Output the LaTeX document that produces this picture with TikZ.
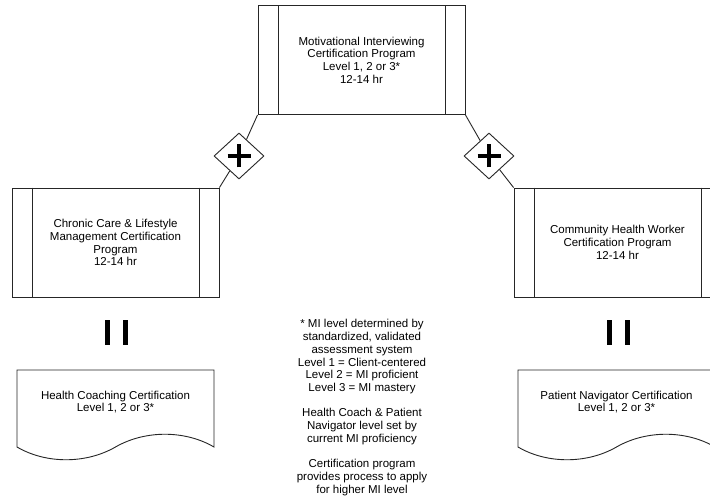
\documentclass[tikz,border=0pt]{standalone}
\usepackage{fontspec}
\setmainfont{Liberation Sans}
\usetikzlibrary{shapes.geometric}
\begin{document}
\begin{tikzpicture}[x=1pt,y=-1pt,
  txtfont/.style={font=\fontsize{11.5}{12.7}\selectfont},
  proc/.style={draw=black!85, line width=0.9pt, rectangle, inner sep=0pt, align=center, txtfont, minimum width=207pt, minimum height=109pt},
  gate/.style={draw=black!85, line width=0.9pt, diamond, inner sep=0pt, minimum width=50pt, minimum height=46pt, fill=white},
  conn/.style={draw=black!85, line width=0.9pt},
  plus/.style={line width=4.5pt, black},
  bar/.style={line width=4.5pt, black},
  doctext/.style={align=center, txtfont, inner sep=0pt},
  note/.style={align=center, txtfont, inner sep=0pt}]
\clip (0,0) rectangle (710,500);
\fill[white] (0,0) rectangle (710,500);

% process boxes
\node[proc] (mi) at (361.5,60) {Motivational Interviewing\\Certification Program\\Level 1, 2 or 3*\\12-14 hr};
\node[proc] (cc) at (115.5,242.5) {Chronic Care \& Lifestyle\\Management Certification\\Program\\12-14 hr};
\node[proc] (chw) at (617.5,242.5) {Community Health Worker\\Certification Program\\12-14 hr};

\foreach \n in {mi,cc,chw}{
  \draw[conn] ([xshift=21pt]\n.north west) -- ([xshift=21pt]\n.south west);
  \draw[conn] ([xshift=-20pt]\n.north east) -- ([xshift=-20pt]\n.south east);
}

% gates
\node[gate] (g1) at (239,156) {};
\node[gate] (g2) at (489,156) {};
\foreach \g in {g1,g2}{
  \draw[plus] ([xshift=-11.5pt]\g.center) -- ([xshift=11.5pt]\g.center);
  \draw[plus] ([yshift=-11.5pt]\g.center) -- ([yshift=11.5pt]\g.center);
}

% connectors
\draw[conn] (mi.south west) -- (g1);
\draw[conn] (g1) -- (cc.north east);
\draw[conn] (mi.south east) -- (g2);
\draw[conn] (g2) -- (chw.north west);

% parallel bars
\draw[bar] (107.5,320) -- (107.5,345);
\draw[bar] (125.5,320) -- (125.5,345);
\draw[bar] (609.5,320) -- (609.5,345);
\draw[bar] (627.5,320) -- (627.5,345);

% documents
\draw[conn] (17,447) -- (17,370) -- (214,370) -- (214,447)
  .. controls (185,430) and (145,430) .. (115.5,447)
  .. controls (86,464) and (46,464) .. (17,447) -- cycle;
\node[doctext] (hc) at (115.5,402) {Health Coaching Certification\\Level 1, 2 or 3*};

\draw[conn] (518,447) -- (518,370) -- (715,370) -- (715,447)
  .. controls (686,430) and (646,430) .. (616.5,447)
  .. controls (587,464) and (547,464) .. (518,447) -- cycle;
\node[doctext] (pn) at (616.5,402) {Patient Navigator Certification\\Level 1, 2 or 3*};

% note
\node[note] (nt) at (362,407.5) {* MI level determined by\\standardized, validated\\assessment system\\Level 1 = Client-centered\\Level 2 = MI proficient\\Level 3 = MI mastery\\[12.7pt]Health Coach \& Patient\\Navigator level set by\\current MI proficiency\\[12.7pt]Certification program\\provides process to apply\\for higher MI level};
\end{tikzpicture}
\end{document}
